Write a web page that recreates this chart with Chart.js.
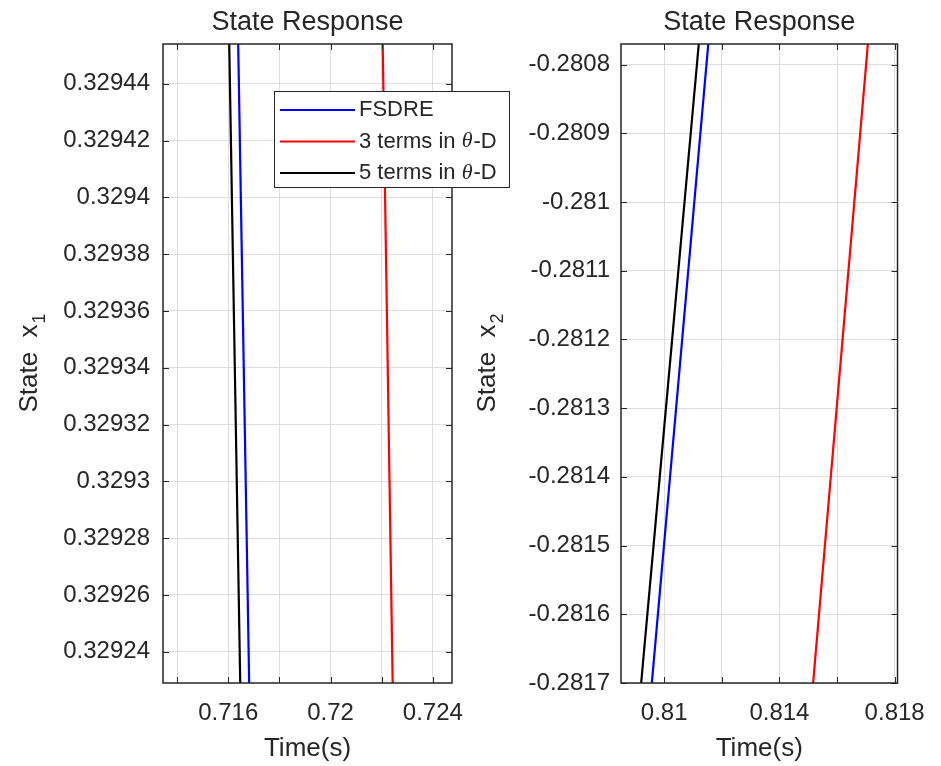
<!DOCTYPE html>
<html>
<head>
<meta charset="utf-8">
<title>State Response</title>
<script src="https://cdn.jsdelivr.net/npm/chart.js@4.4.0/dist/chart.umd.min.js"></script>
<style>
  body { margin: 0; background: #fff; }
  #wrap { position: relative; width: 941px; height: 766px; }
  #leftWrap { position: absolute; left: 0; top: 0; width: 520px; height: 766px; }
  #rightWrap { position: absolute; left: 460px; top: 0; width: 481px; height: 766px; }
</style>
</head>
<body>
<div id="wrap">
  <div id="leftWrap"><canvas id="chartX1"></canvas></div>
  <div id="rightWrap"><canvas id="chartX2"></canvas></div>
</div>
<script>
const FONT = "'Liberation Sans', Arial, sans-serif";
const INK = '#262626';

const seriesNames = ['FSDRE', '3 terms in θ-D', '5 terms in θ-D'];
const seriesColors = ['#0000ff', '#ff0000', '#000000'];

// 왼쪽: state x1 (값은 축 위/아래 끝에서 읽은 것)
const x1Values = [0.329454, 0.329229];
const x1TimeFSDRE = [0.71639, 0.71682];
const x1Time3Terms = [0.72204, 0.72243];
const x1Time5Terms = [0.71604, 0.71647];
const x1TimeRange = [0.71345, 0.72475];
const x1ValueRange = [0.329229, 0.329454];
const x1TimeTicks = [0.714, 0.716, 0.718, 0.72, 0.722, 0.724];
const x1TimeLabels = ['', '0.716', '', '0.72', '', '0.724'];
const x1ValueTicks = [0.32924, 0.32926, 0.32928, 0.3293, 0.32932, 0.32934, 0.32936, 0.32938, 0.3294, 0.32942, 0.32944];
const x1ValueLabels = ['0.32924', '0.32926', '0.32928', '0.3293', '0.32932', '0.32934', '0.32936', '0.32938', '0.3294', '0.32942', '0.32944'];

// 오른쪽: state x2
const x2Values = [-0.28077, -0.2817];
const x2TimeFSDRE = [0.81153, 0.80957];
const x2Time3Terms = [0.81707, 0.81517];
const x2Time5Terms = [0.8112, 0.8092];
const x2TimeRange = [0.8085, 0.8181];
const x2ValueRange = [-0.2817, -0.28077];
const x2TimeTicks = [0.81, 0.812, 0.814, 0.816, 0.818];
const x2TimeLabels = ['0.81', '', '0.814', '', '0.818'];
const x2ValueTicks = [-0.2817, -0.2816, -0.2815, -0.2814, -0.2813, -0.2812, -0.2811, -0.281, -0.2809, -0.2808];
const x2ValueLabels = ['-0.2817', '-0.2816', '-0.2815', '-0.2814', '-0.2813', '-0.2812', '-0.2811', '-0.281', '-0.2809', '-0.2808'];

function points(times, values) {
    return times.map((t, i) => ({ x: t, y: values[i] }));
}

function drawLegend(ctx) {
    const box = { left: 274, top: 91, right: 509, bottom: 187 };
    const rows = [110, 141.5, 173];
    ctx.fillStyle = '#fff';
    ctx.fillRect(box.left, box.top, box.right - box.left, box.bottom - box.top);
    ctx.strokeStyle = INK;
    ctx.lineWidth = 1;
    ctx.strokeRect(box.left + 0.5, box.top + 0.5, box.right - box.left, box.bottom - box.top);

    ctx.textAlign = 'left';
    ctx.textBaseline = 'middle';
    seriesNames.forEach((name, i) => {
        const yRow = rows[i];
        ctx.strokeStyle = seriesColors[i];
        ctx.lineWidth = 2;
        ctx.beginPath();
        ctx.moveTo(280, yRow);
        ctx.lineTo(355, yRow);
        ctx.stroke();

        // θ 는 이탤릭으로
        ctx.fillStyle = INK;
        let xPos = 359;
        const parts = name.split('θ');
        parts.forEach((part, j) => {
            ctx.font = '22px ' + FONT;
            ctx.fillText(part, xPos, yRow);
            xPos += ctx.measureText(part).width;
            if (j < parts.length - 1) {
                ctx.font = "italic 22px 'Liberation Serif', serif";
                ctx.fillText('θ', xPos, yRow);
                xPos += ctx.measureText('θ').width + 1;
            }
        });
    });
}

function framePlugin(cfg) {
    return {
        id: 'matlabFrame',
        afterDraw(chart) {
            const { ctx, chartArea: a, scales: { x, y } } = chart;
            ctx.save();

            // 안쪽 눈금 (네 변 모두)
            ctx.strokeStyle = INK;
            ctx.lineWidth = 1;
            ctx.beginPath();
            x.ticks.forEach(t => {
                const px = Math.round(x.getPixelForValue(t.value)) + 0.5;
                ctx.moveTo(px, a.bottom); ctx.lineTo(px, a.bottom - 6);
                ctx.moveTo(px, a.top); ctx.lineTo(px, a.top + 6);
            });
            y.ticks.forEach(t => {
                const py = Math.round(y.getPixelForValue(t.value)) + 0.5;
                ctx.moveTo(a.left, py); ctx.lineTo(a.left + 6, py);
                ctx.moveTo(a.right, py); ctx.lineTo(a.right - 6, py);
            });
            ctx.stroke();

            // 축 박스
            ctx.lineWidth = 1.5;
            ctx.strokeRect(a.left, a.top, a.right - a.left, a.bottom - a.top);

            const cx = (a.left + a.right) / 2;
            ctx.fillStyle = INK;

            // 제목
            ctx.font = '27px ' + FONT;
            ctx.textAlign = 'center';
            ctx.textBaseline = 'alphabetic';
            ctx.fillText('State Response', cx, 30);

            // x축 제목
            ctx.font = '26px ' + FONT;
            ctx.fillText('Time(s)', cx, 756);

            // y축 제목 (아래첨자)
            ctx.save();
            ctx.translate(cfg.yTitleX, (a.top + a.bottom) / 2);
            ctx.rotate(-Math.PI / 2);
            ctx.textAlign = 'left';
            ctx.font = '26px ' + FONT;
            const main = 'State  x';
            const w1 = ctx.measureText(main).width;
            ctx.font = '18px ' + FONT;
            const w2 = ctx.measureText(cfg.ySub).width;
            const start = -(w1 + w2) / 2;
            ctx.font = '26px ' + FONT;
            ctx.fillText(main, start, 0);
            ctx.font = '18px ' + FONT;
            ctx.fillText(cfg.ySub, start + w1 + 1, 8);
            ctx.restore();

            if (cfg.legend) drawLegend(ctx);
            ctx.restore();
        }
    };
}

function renderStatePanel(elementId, cfg) {
    const ctx = document.getElementById(elementId);
    if (!ctx) return null;

    return new Chart(ctx, {
        type: 'line',
        data: {
            datasets: cfg.series.map((times, i) => ({
                label: seriesNames[i],
                data: points(times, cfg.values),
                borderColor: seriesColors[i],
                borderWidth: 2.2,
                pointRadius: 0,
                tension: 0,
                fill: false
            }))
        },
        options: {
            responsive: true,
            maintainAspectRatio: false,
            animation: false,
            events: [],
            layout: { padding: cfg.padding },
            plugins: {
                legend: { display: false },
                tooltip: { enabled: false },
                title: { display: false }
            },
            scales: {
                x: {
                    type: 'linear',
                    min: cfg.timeRange[0],
                    max: cfg.timeRange[1],
                    afterFit: s => { s.height = 83; },
                    afterBuildTicks: s => { s.ticks = cfg.timeTicks.map(v => ({ value: v })); },
                    ticks: {
                        autoSkip: false,
                        maxRotation: 0,
                        padding: 16,
                        color: INK,
                        font: { family: FONT, size: 24 },
                        callback: (v, i) => cfg.timeLabels[i]
                    },
                    grid: { color: '#dedede', drawTicks: false },
                    border: { display: false }
                },
                y: {
                    type: 'linear',
                    min: cfg.valueRange[0],
                    max: cfg.valueRange[1],
                    afterFit: s => { s.width = cfg.yWidth; },
                    afterBuildTicks: s => { s.ticks = cfg.valueTicks.map(v => ({ value: v })); },
                    ticks: {
                        autoSkip: false,
                        padding: cfg.yPad,
                        color: INK,
                        font: { family: FONT, size: 24 },
                        callback: (v, i) => cfg.valueLabels[i]
                    },
                    grid: { color: '#dedede', drawTicks: false },
                    border: { display: false }
                }
            }
        },
        plugins: [framePlugin(cfg)]
    });
}

renderStatePanel('chartX1', {
    series: [x1TimeFSDRE, x1Time3Terms, x1Time5Terms],
    values: x1Values,
    timeRange: x1TimeRange,
    valueRange: x1ValueRange,
    timeTicks: x1TimeTicks,
    timeLabels: x1TimeLabels,
    valueTicks: x1ValueTicks,
    valueLabels: x1ValueLabels,
    padding: { top: 44, right: 68, left: 0, bottom: 0 },
    yWidth: 163,
    yPad: 13,
    yTitleX: 37,
    ySub: '1',
    legend: true
});

renderStatePanel('chartX2', {
    series: [x2TimeFSDRE, x2Time3Terms, x2Time5Terms],
    values: x2Values,
    timeRange: x2TimeRange,
    valueRange: x2ValueRange,
    timeTicks: x2TimeTicks,
    timeLabels: x2TimeLabels,
    valueTicks: x2ValueTicks,
    valueLabels: x2ValueLabels,
    padding: { top: 44, right: 31, left: 0, bottom: 0 },
    yWidth: 161,
    yPad: 11,
    yTitleX: 35,
    ySub: '2',
    legend: false
});
</script>
</body>
</html>
